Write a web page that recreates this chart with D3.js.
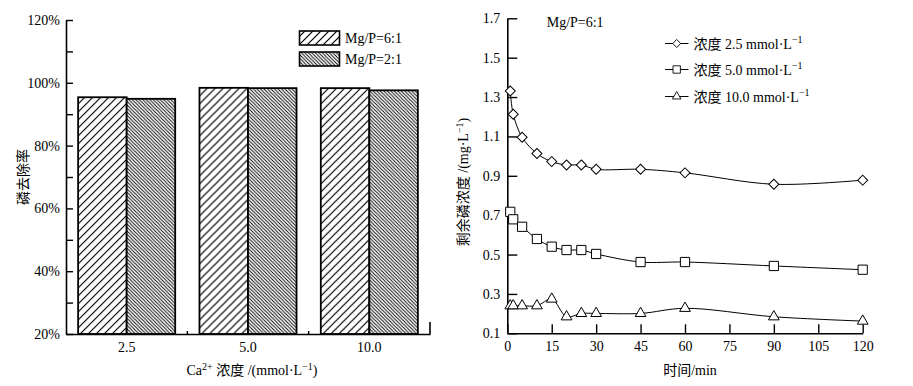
<!DOCTYPE html>
<html>
<head>
<meta charset="utf-8">
<script src="https://cdn.jsdelivr.net/npm/d3@7"></script>
<style>
  body { margin: 0; background: #fff; }
  svg { display: block; font-family: "Liberation Serif", "Noto Sans CJK SC", serif; }
  .axis path, .axis line { stroke: #000; }
  .axis text { fill: #000; font-family: "Liberation Serif", "Noto Sans CJK SC", serif; }
</style>
</head>
<body>
<svg id="chart"></svg>
<script>
const width = 913, height = 386;

// left panel: removal rate (%) per Ca2+ concentration
const caLevels = ["2.5", "5.0", "10.0"];
const ratioSeries = ["Mg/P=6:1", "Mg/P=2:1"];
const removal61 = [95.4, 98.4, 98.3];
const removal21 = [94.9, 98.3, 97.6];
const removalTicks = [20, 30, 40, 50, 60, 70, 80, 90, 100, 110, 120];

// right panel: residual P (mg/L) over time
const times = [1, 2, 5, 10, 15, 20, 25, 30, 45, 60, 90, 120];
const conc25 = [1.331, 1.213, 1.096, 1.013, 0.972, 0.955, 0.955, 0.933, 0.933, 0.915, 0.857, 0.878];
const conc50 = [0.717, 0.679, 0.641, 0.579, 0.540, 0.523, 0.523, 0.503, 0.462, 0.462, 0.442, 0.423];
const conc100 = [0.240, 0.240, 0.240, 0.240, 0.274, 0.184, 0.201, 0.201, 0.201, 0.227, 0.184, 0.162];
const timeTicks = [0, 15, 30, 45, 60, 75, 90, 105, 120];
const concTicks = [0.1, 0.3, 0.5, 0.7, 0.9, 1.1, 1.3, 1.5, 1.7];

const svg = d3.select("#chart")
    .attr("width", width)
    .attr("height", height);

svg.append("rect").attr("width", width).attr("height", height).attr("fill", "#fff");

const defs = svg.append("defs");
defs.append("pattern")
    .attr("id", "hatch61")
    .attr("patternUnits", "userSpaceOnUse")
    .attr("width", 8).attr("height", 8)
    .call(p => p.append("rect").attr("width", 8).attr("height", 8).attr("fill", "#fff"))
    .append("path")
    .attr("d", "M0,8 L8,0 M-2,2 L2,-2 M6,10 L10,6")
    .attr("stroke", "#000").attr("stroke-width", 1.2);
defs.append("pattern")
    .attr("id", "hatch21")
    .attr("patternUnits", "userSpaceOnUse")
    .attr("width", 3.5).attr("height", 3.5)
    .call(p => p.append("rect").attr("width", 3.5).attr("height", 3.5).attr("fill", "#fff"))
    .append("path")
    .attr("d", "M0,0 L3.5,3.5 M-1,2.5 L1,4.5 M2.5,-1 L4.5,1")
    .attr("stroke", "#000").attr("stroke-width", 0.9);

const fills = ["url(#hatch61)", "url(#hatch21)"];

// ---------- left panel ----------
const x0 = d3.scaleBand().domain(caLevels).range([66, 430])
    .paddingInner(0.2).paddingOuter(0.1);
const x1 = d3.scaleBand().domain(ratioSeries).range([0, x0.bandwidth()]);
const yL = d3.scaleLinear().domain([20, 120]).range([334, 20]);

const barRows = caLevels.map((c, i) => ({cat: c, vals: [removal61[i], removal21[i]]}));

const left = svg.append("g");
left.selectAll("g.grp")
    .data(barRows)
    .join("g")
    .attr("class", "grp")
    .attr("transform", d => `translate(${x0(d.cat)},0)`)
    .selectAll("rect")
    .data(d => d.vals.map((v, j) => ({key: ratioSeries[j], v, j})))
    .join("rect")
    .attr("x", d => x1(d.key))
    .attr("y", d => yL(d.v))
    .attr("width", x1.bandwidth())
    .attr("height", d => yL(20) - yL(d.v))
    .attr("fill", d => fills[d.j])
    .attr("stroke", "#000")
    .attr("stroke-width", 1.8);

left.append("g")
    .attr("class", "axis")
    .attr("transform", "translate(66,0)")
    .call(d3.axisLeft(yL).tickValues(removalTicks)
        .tickFormat(d => d % 20 === 0 ? d + "%" : "")
        .tickSizeInner(-7).tickSizeOuter(0).tickPadding(6))
    .call(g => g.select(".domain").attr("stroke-width", 1.6))
    .call(g => g.selectAll("line").attr("stroke-width", 1.4))
    .call(g => g.selectAll("text").style("font-size", "14px"));

left.append("g")
    .attr("class", "axis")
    .attr("transform", "translate(0,334)")
    .call(d3.axisBottom(x0).tickSize(0).tickPadding(8))
    .call(g => g.select(".domain").attr("stroke-width", 1.6))
    .call(g => g.selectAll("text").style("font-size", "14px"));

// group boundary ticks and right end tick
const stepL = x0.step();
[1, 2].forEach(i => {
    left.append("line")
        .attr("x1", 66 + i * stepL).attr("x2", 66 + i * stepL)
        .attr("y1", 334).attr("y2", 331)
        .attr("stroke", "#000").attr("stroke-width", 1.4);
});
left.append("line")
    .attr("x1", 430).attr("x2", 430).attr("y1", 334).attr("y2", 322)
    .attr("stroke", "#000").attr("stroke-width", 1.6);

// legend
ratioSeries.forEach((s, i) => {
    const ly = 31 + i * 21;
    left.append("rect")
        .attr("x", 299.5).attr("y", ly)
        .attr("width", 40).attr("height", 14)
        .attr("fill", fills[i])
        .attr("stroke", "#000").attr("stroke-width", 1.6);
    left.append("text")
        .attr("x", 345).attr("y", ly + 12)
        .style("font-size", "14px")
        .text(s);
});

left.append("text")
    .attr("transform", "translate(28,177) rotate(-90)")
    .attr("text-anchor", "middle")
    .style("font-size", "14px")
    .text("磷去除率");

const xlabL = left.append("text")
    .attr("x", 252).attr("y", 375)
    .attr("text-anchor", "middle")
    .style("font-size", "14px");
xlabL.append("tspan").text("Ca");
xlabL.append("tspan").attr("dy", -5).style("font-size", "10px").text("2+");
xlabL.append("tspan").attr("dy", 5).text(" 浓度 /(mmol·L");
xlabL.append("tspan").attr("dy", -5).style("font-size", "10px").text("−1");
xlabL.append("tspan").attr("dy", 5).text(")");

// ---------- right panel ----------
const xR = d3.scaleLinear().domain([0, 120]).range([507.3, 862.7]);
const yR = d3.scaleLinear().domain([0.1, 1.7]).range([333.3, 18.3]);

const right = svg.append("g");

right.append("g")
    .attr("class", "axis")
    .attr("transform", "translate(507.3,0)")
    .call(d3.axisLeft(yR).tickValues(concTicks).tickFormat(d3.format(".1f"))
        .tickSizeInner(-10).tickSizeOuter(0).tickPadding(7))
    .call(g => g.select(".domain").attr("stroke-width", 1.6))
    .call(g => g.selectAll("line").attr("stroke-width", 1.4))
    .call(g => g.selectAll("text").style("font-size", "14px"));

right.append("g")
    .attr("class", "axis")
    .attr("transform", "translate(0,333.3)")
    .call(d3.axisBottom(xR).tickValues(timeTicks)
        .tickSizeInner(-9).tickSizeOuter(0).tickPadding(8))
    .call(g => g.select(".domain").attr("stroke-width", 1.6))
    .call(g => g.selectAll("line").attr("stroke-width", 1.4))
    .call(g => g.selectAll("text").style("font-size", "14px"));

const diamond = d3.symbol(d3.symbolSquare, 50);
const square = d3.symbol(d3.symbolSquare, 85);
const triangle = d3.symbol(d3.symbolTriangle, 50);

const seriesR = [
    {label: "2.5", vals: conc25, sym: diamond, rot: 45},
    {label: "5.0", vals: conc50, sym: square, rot: 0},
    {label: "10.0", vals: conc100, sym: triangle, rot: 0}
];

const line = d3.line()
    .x(d => xR(d.t))
    .y(d => yR(d.v))
    .curve(d3.curveCatmullRom.alpha(0.5));

seriesR.forEach(s => {
    const pts = times.map((t, i) => ({t, v: s.vals[i]}));
    right.append("path")
        .datum(pts)
        .attr("d", line)
        .attr("fill", "none")
        .attr("stroke", "#000")
        .attr("stroke-width", 1);
    right.selectAll(null)
        .data(pts)
        .join("path")
        .attr("d", s.sym)
        .attr("transform", d => `translate(${xR(d.t)},${yR(d.v)}) rotate(${s.rot})`)
        .attr("fill", "#fff")
        .attr("stroke", "#000")
        .attr("stroke-width", 1);
});

right.append("text")
    .attr("x", 546.7).attr("y", 27)
    .style("font-size", "14px")
    .text("Mg/P=6:1");

const legRows = [43.5, 69.5, 96.5];
seriesR.forEach((s, i) => {
    const ly = legRows[i];
    right.append("line")
        .attr("x1", 665).attr("x2", 688.5).attr("y1", ly).attr("y2", ly)
        .attr("stroke", "#000").attr("stroke-width", 1);
    right.append("path")
        .attr("d", s.sym)
        .attr("transform", `translate(676.7,${ly}) rotate(${s.rot}) scale(0.8)`)
        .attr("fill", "#fff")
        .attr("stroke", "#000")
        .attr("stroke-width", 1.1);
    const t = right.append("text")
        .attr("x", 693.5).attr("y", ly + 5)
        .style("font-size", "14px");
    t.append("tspan").text(`浓度 ${s.label} mmol·L`);
    t.append("tspan").attr("dy", -6).style("font-size", "10px").text("−1");
});

const ylabR = right.append("text")
    .attr("transform", "translate(468,182) rotate(-90)")
    .attr("text-anchor", "middle")
    .style("font-size", "14px");
ylabR.append("tspan").text("剩余磷浓度 /(mg·L");
ylabR.append("tspan").attr("dy", -5).style("font-size", "10px").text("−1");
ylabR.append("tspan").attr("dy", 5).text(")");

right.append("text")
    .attr("x", 690).attr("y", 375)
    .attr("text-anchor", "middle")
    .style("font-size", "14px")
    .text("时间/min");
</script>
</body>
</html>
